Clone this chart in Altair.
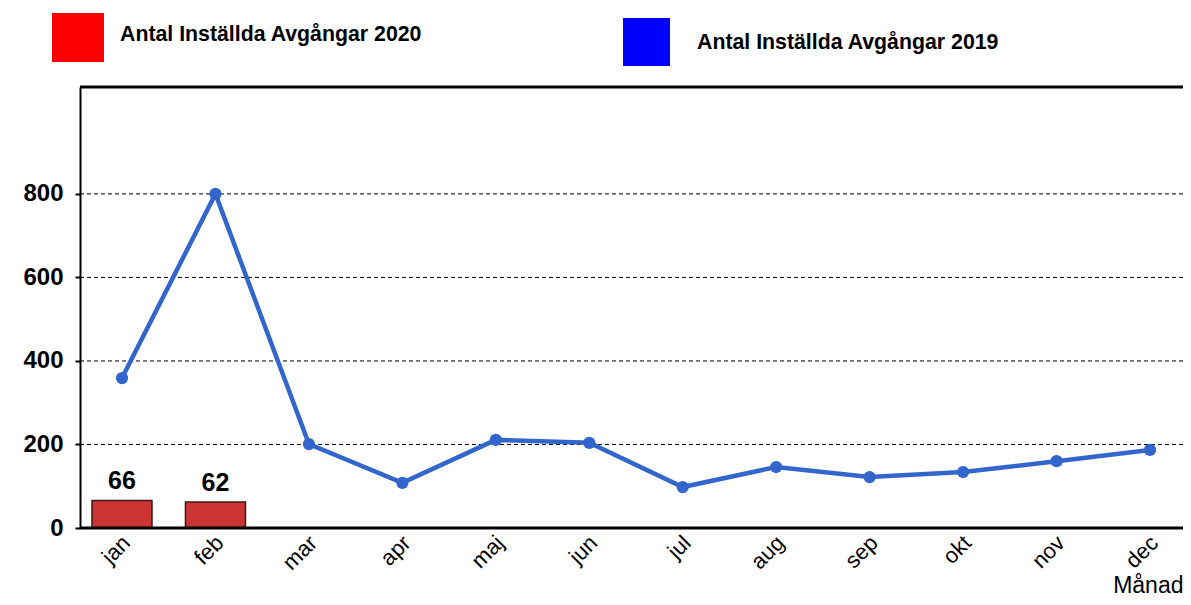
import altair as alt
import pandas as pd

months = ["jan", "feb", "mar", "apr", "maj", "jun", "jul", "aug", "sep", "okt", "nov", "dec"]
cancel_2019 = [359, 800, 201, 108, 211, 204, 98, 146, 122, 134, 160, 187]
months_2020 = ["jan", "feb"]
cancel_2020 = [66, 62]
y_ticks = [0, 200, 400, 600, 800]
grid_values = [200, 400, 600, 800]
legend_2020 = "Antal Inställda Avgångar 2020"
legend_2019 = "Antal Inställda Avgångar 2019"
x_title = "Månad"

df19 = pd.DataFrame({"month": months, "value": cancel_2019})
df20 = pd.DataFrame({"month": months_2020, "value": cancel_2020})
dgrid = pd.DataFrame({"value": grid_values})
dzero = pd.DataFrame({"value": [0]})
dleg = pd.DataFrame({"a": [legend_2020], "b": [legend_2019]})

FONT = "Liberation Sans"
W, H = 1103, 441

x_enc = alt.X(
    "month:O", sort=months,
    scale=alt.Scale(type="point", range=[42, 1070], padding=0),
    axis=alt.Axis(
        title=x_title, titleFont=FONT, titleFontSize=23, titleFontWeight="normal",
        titleColor="black", titleAnchor="end", titleAlign="right",
        titleBaseline="alphabetic", titleX=W, titleY=64,
        labelAngle=-45, labelFont=FONT, labelFontSize=22, labelColor="black",
        labelAlign="right", labelBaseline="middle", labelPadding=11, labelOffset=4,
        ticks=False, grid=False, domain=False,
    ),
)
y_scale = alt.Scale(domain=[0, 1056], nice=False)
y_enc = alt.Y(
    "value:Q",
    scale=y_scale,
    axis=alt.Axis(
        title=None, values=y_ticks, labelFont=FONT, labelFontSize=24,
        labelFontWeight="bold", labelColor="black", labelPadding=12,
        tickColor="black", tickSize=5, tickWidth=2,
        domainColor="black", domainWidth=2, grid=False,
    ),
)

grid = alt.Chart(dgrid).mark_rule(color="black", strokeWidth=1, strokeDash=[4, 3]).encode(
    y=y_enc, x=alt.value(0), x2=alt.value(W)
)
base_line = alt.Chart(dzero).mark_rule(color="black", strokeWidth=3).encode(
    y=y_enc, x=alt.value(0), x2=alt.value(W)
)

bars = alt.Chart(df20).mark_bar(
    size=60, color="#cc3333", stroke="#3a1a1a", strokeWidth=1.5
).encode(x=x_enc, y=y_enc)

bar_text = alt.Chart(df20).mark_text(
    baseline="bottom", dy=-6, font=FONT, fontSize=25, fontWeight="bold", color="black"
).encode(x=x_enc, y=y_enc, text="value:Q")

line = alt.Chart(df19).mark_line(
    color="#3366cc", strokeWidth=4.5,
    point=alt.OverlayMarkDef(filled=True, size=150, color="#3366cc"),
).encode(x=x_enc, y=y_enc)

top_rule = alt.Chart(dleg).mark_rule(color="black", strokeWidth=3).encode(
    x=alt.value(0), x2=alt.value(W), y=alt.value(0)
)

leg_red = alt.Chart(dleg).mark_rect(color="#ff0000").encode(
    x=alt.value(-28), x2=alt.value(24), y=alt.value(-74), y2=alt.value(-25)
)
leg_red_text = alt.Chart(dleg).mark_text(
    align="left", baseline="middle", font=FONT, fontSize=21.3, fontWeight="bold", color="black"
).encode(x=alt.value(40), y=alt.value(-52), text="a:N")

leg_blue = alt.Chart(dleg).mark_rect(color="#0000ff").encode(
    x=alt.value(543), x2=alt.value(590), y=alt.value(-69), y2=alt.value(-21)
)
leg_blue_text = alt.Chart(dleg).mark_text(
    align="left", baseline="middle", font=FONT, fontSize=21.3, fontWeight="bold", color="black"
).encode(x=alt.value(617), y=alt.value(-44), text="b:N")

chart = alt.layer(
    grid, bars, bar_text, line, base_line, top_rule,
    leg_red, leg_red_text, leg_blue, leg_blue_text
).properties(
    width=W, height=H,
    autosize=alt.AutoSizeParams(type="none"),
    padding={"left": 72, "top": 79, "right": 0, "bottom": 69},
).configure_view(stroke=None).configure(background="white")

chart.save("out.html", embed_options={"renderer": "svg", "actions": False})
